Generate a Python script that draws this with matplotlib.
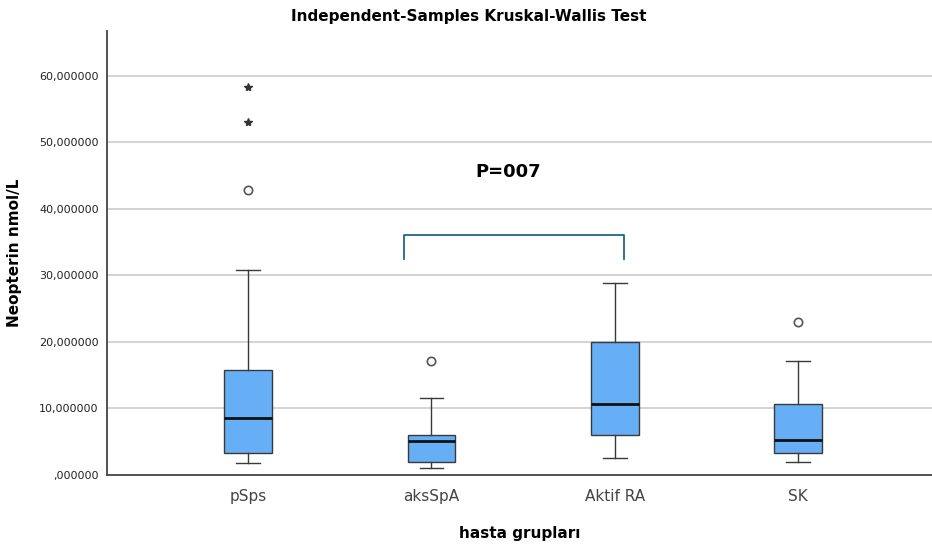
import matplotlib
matplotlib.use("Agg")
import matplotlib.pyplot as plt
from matplotlib.ticker import FuncFormatter

# data
groups = ["pSps", "aksSpA", "Aktif RA", "SK"]
q1 = [3.3, 2.0, 6.0, 3.3]
med = [8.6, 5.1, 10.7, 5.2]
q3 = [15.8, 6.0, 20.0, 10.6]
whislo = [1.8, 1.0, 2.5, 2.0]
whishi = [30.8, 11.6, 28.8, 17.1]
outliers = [[42.8], [17.1], [], [23.0]]
extremes = [[53.0, 58.3], [], [], []]

fig = plt.figure(figsize=(9.32, 5.48), dpi=100)
ax = fig.add_axes([0.1148, 0.1332, 0.8852, 0.8102])

stats = []
for i, g in enumerate(groups):
    stats.append(dict(label=g, q1=q1[i], med=med[i], q3=q3[i],
                      whislo=whislo[i], whishi=whishi[i], fliers=outliers[i]))

pos = list(range(1, len(groups) + 1))
ax.bxp(stats, positions=pos, widths=0.26, patch_artist=True,
       boxprops=dict(facecolor="#66aef5", edgecolor="#3a3a3a", linewidth=1.0),
       medianprops=dict(color="#111111", linewidth=2.0),
       whiskerprops=dict(color="#3a3a3a", linewidth=1.0),
       capprops=dict(color="#3a3a3a", linewidth=1.0),
       capwidths=0.13,
       flierprops=dict(marker="o", markersize=6, markerfacecolor="white",
                       markeredgecolor="#555555", markeredgewidth=1.2))

for p, ex in zip(pos, extremes):
    if ex:
        ax.plot([p] * len(ex), ex, linestyle="none", marker="*",
                markersize=6, color="#333333")

# significance bracket between aksSpA and Aktif RA
bx0, bx1 = 1.85, 3.05
ax.plot([bx0, bx0, bx1, bx1], [32.5, 36.0, 36.0, 32.5], color="#1f6680",
        linewidth=1.3, solid_joinstyle="round")
ax.text(2.42, 45.5, "P=007", ha="center", va="center", fontsize=13,
        fontweight="bold")

ax.set_xlim(0.23, 4.73)
ax.set_ylim(0, 66.7)
ax.set_yticks(range(0, 70, 10))
ax.yaxis.set_major_formatter(FuncFormatter(
    lambda v, _: ",000000" if v == 0 else f"{v:.6f}".replace(".", ",")))
ax.set_xticks(pos)
ax.set_xticklabels(groups)
ax.tick_params(axis="y", length=0, labelsize=8, colors="#222222", pad=6)
ax.tick_params(axis="x", length=0, labelsize=11, colors="#444444", pad=10)

for v in range(10, 70, 10):
    ax.axhline(v, color="#cccccc", linewidth=1.2, zorder=0)

for s in ["top", "right"]:
    ax.spines[s].set_visible(False)
ax.spines["left"].set_color("#444444")
ax.spines["left"].set_linewidth(1.3)
ax.spines["bottom"].set_color("#444444")
ax.spines["bottom"].set_linewidth(1.3)

ax.set_ylabel("Neopterin nmol/L", fontsize=11, fontweight="bold", labelpad=12)
ax.set_xlabel("hasta grupları", fontsize=11, fontweight="bold", labelpad=16)
fig.text(0.503, 0.97, "Independent-Samples Kruskal-Wallis Test",
         ha="center", va="center", fontsize=11, fontweight="bold")

fig.savefig("out.png", dpi=100)
